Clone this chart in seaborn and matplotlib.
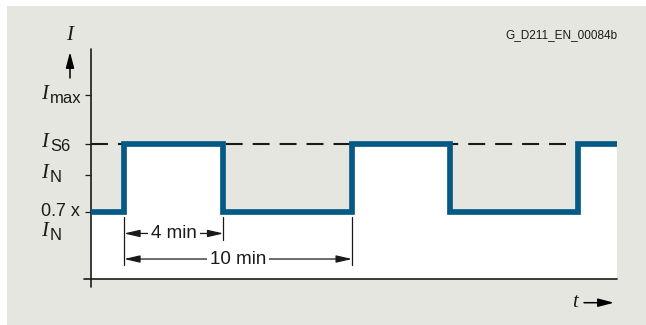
import matplotlib
matplotlib.use("Agg")
import matplotlib.pyplot as plt
import seaborn as sns
import pandas as pd
from matplotlib.patches import Rectangle

# S6 duty cycle: switching times (min) and current level after each switch
t_edges = [0.0, 1.45, 5.81, 11.45, 15.75, 21.34, 23.07]
levels = [0.644, 1.298, 0.644, 1.298, 0.644, 1.298, 1.298]

# current levels on the y axis (relative to I_N)
i_low = 0.644
i_n = 1.0
i_s6 = 1.298
i_max = 1.764
ytick_pos = [i_low, i_n, i_s6, i_max]

# dimension arrows: label, start edge, end edge, height
dim_labels = ["4 min", "10 min"]
dim_start = [1, 1]
dim_end = [2, 3]
dim_y = [0.4375, 0.192]

blue = "#045a84"
grey = "#e6e6e1"
ink = "#1a1a1a"

sns.set_style("white")
plt.rcParams["font.family"] = ["Liberation Sans", "DejaVu Sans"]
plt.rcParams["lines.scale_dashes"] = False

fig = plt.figure(figsize=(6.46, 3.25), dpi=100)
fig.patch.set_facecolor("white")
fig.add_artist(Rectangle((7 / 646, 0), 1 - 7 / 646, 319 / 325, transform=fig.transFigure,
                         fc=grey, ec="none", zorder=0))

ax = fig.add_axes([91 / 646, 46 / 325, 526 / 646, 230 / 325])
ax.set_facecolor("none")
ax.set_xlim(0, 23.07)
ax.set_ylim(0, 2.21)

df = pd.DataFrame({"t": t_edges, "I": levels})
ax.fill_between(df["t"], df["I"], 0, step="post", color="white", lw=0, zorder=1)
ax.axhline(i_s6, color=ink, lw=1.5, dashes=(12.2, 7.2), zorder=2)
sns.lineplot(data=df, x="t", y="I", drawstyle="steps-post", color=blue, lw=4.1,
             solid_joinstyle="miter", ax=ax, zorder=4)

# axes drawn by hand so they can cross past each other
ax.plot([-7 / 526, 1], [0, 0], transform=ax.transAxes, clip_on=False, color=ink, lw=1.2)
ax.plot([0, 0], [-8 / 230, 1], transform=ax.transAxes, clip_on=False, color=ink, lw=1.2)
for s in ax.spines.values():
    s.set_visible(False)
ax.set_xticks([])
ax.set_yticks(ytick_pos)
ax.set_yticklabels([])
ax.tick_params(axis="y", left=True, direction="out", length=4.5, width=0.9, color=ink)
ax.set_xlabel("")
ax.set_ylabel("")

serif_it = dict(fontfamily="Liberation Serif", style="italic", fontsize=15, color=ink)


def sym_label(y, sub, dy=0):
    ax.annotate("I", xy=(0, y), xycoords=("axes fraction", "data"), xytext=(-50, 1 + dy),
                textcoords="offset pixels", ha="left", va="center", **serif_it)
    ax.annotate(sub, xy=(0, y), xycoords=("axes fraction", "data"), xytext=(-41, -3 + dy),
                textcoords="offset pixels", ha="left", va="center", fontsize=12, color=ink)


sym_label(i_max, "max")
sym_label(i_s6, "S6")
sym_label(i_n, "N")
ax.annotate("0.7 x", xy=(0, i_low), xycoords=("axes fraction", "data"), xytext=(-11, 0),
            textcoords="offset pixels", ha="right", va="center", fontsize=13, color=ink)
sym_label(i_low, "N", dy=-21)

# dimension lines for on-time and cycle time
head = "<|-|>,head_length=0.95,head_width=0.22"
for lab, a, b, y in zip(dim_labels, dim_start, dim_end, dim_y):
    x0, x1 = t_edges[a], t_edges[b]
    ax.annotate("", xy=(x1, y), xytext=(x0, y),
                arrowprops=dict(arrowstyle=head, color=ink, lw=0.9, shrinkA=0, shrinkB=0,
                                mutation_scale=10))
    ax.text((x0 + x1) / 2, y, lab, ha="center", va="center", fontsize=13.5, color=ink, zorder=5,
            bbox=dict(boxstyle="square,pad=0.15", fc="white", ec="none"))
for a, y in zip(dim_end, dim_y):
    ax.plot([t_edges[a], t_edges[a]], [i_low - 0.05, y - 0.06], color=ink, lw=0.9)
ax.plot([t_edges[1], t_edges[1]], [i_low - 0.05, min(dim_y) - 0.06], color=ink, lw=0.9)

# axis names with arrows
fig.text(70 / 646, (325 - 35) / 325, "I", ha="center", va="center", **serif_it)
ax.annotate("", xy=(70, 325 - 52), xycoords="figure pixels", xytext=(70, 325 - 78),
            arrowprops=dict(arrowstyle="-|>,head_length=0.95,head_width=0.25", color="black",
                            lw=1.1, shrinkA=0, shrinkB=0, mutation_scale=10))
fig.text(575 / 646, (325 - 302.5) / 325, "t", ha="center", va="center", **serif_it)
ax.annotate("", xy=(614, 325 - 302.7), xycoords="figure pixels", xytext=(584, 325 - 302.7),
            arrowprops=dict(arrowstyle="-|>,head_length=0.95,head_width=0.25", color="black",
                            lw=1.1, shrinkA=0, shrinkB=0, mutation_scale=10))

fig.text(618 / 646, (325 - 35.5) / 325, "G_D211_EN_00084b", ha="right", va="center",
         fontsize=8.5, color=ink)

fig.savefig("out.png", dpi=100)
